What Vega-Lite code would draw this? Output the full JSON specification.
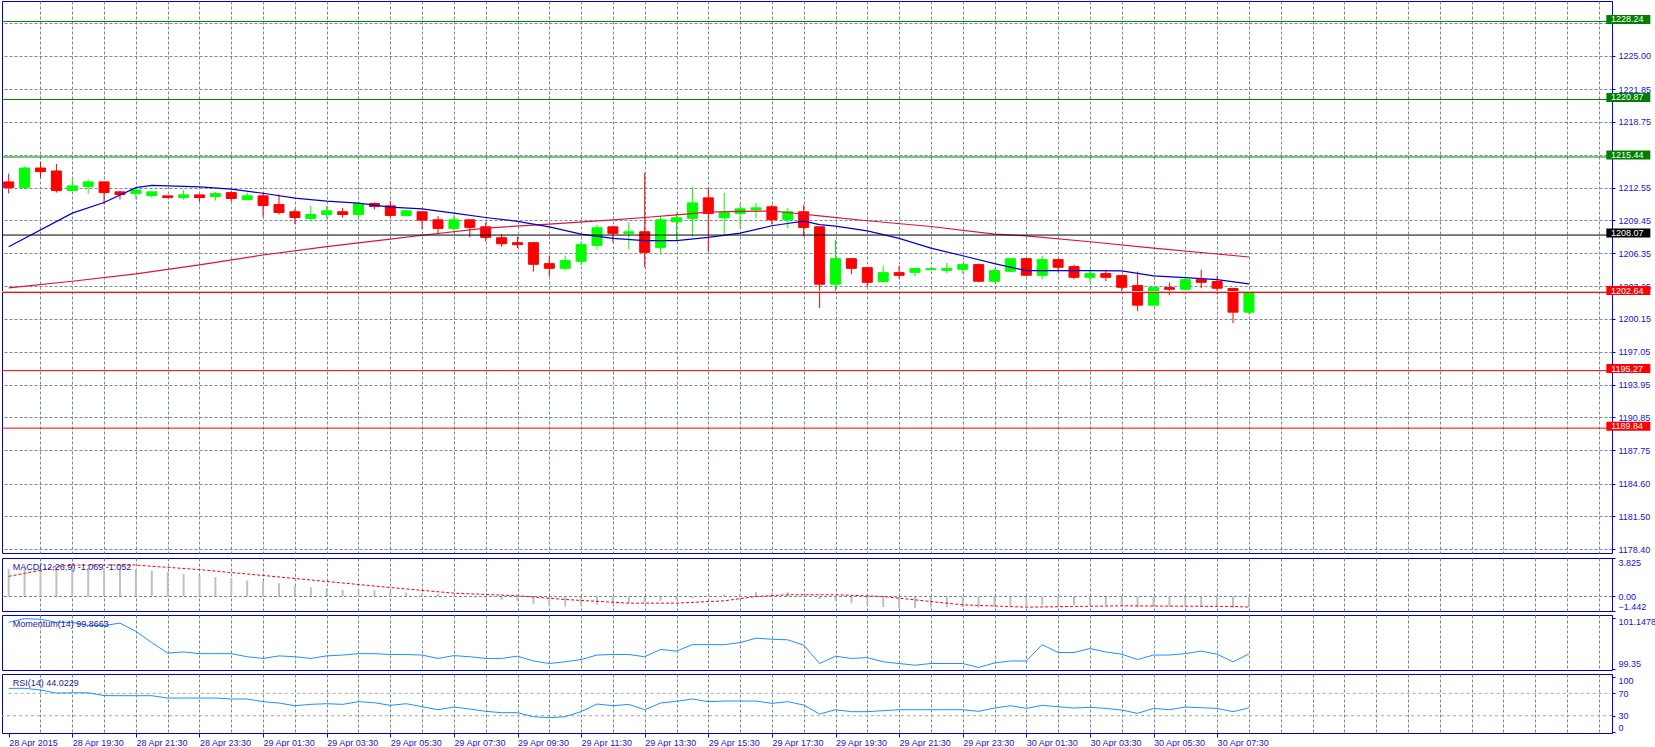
{
  "$schema": "https://vega.github.io/schema/vega-lite/v6.json",
  "padding": {"left": 1, "top": 0, "right": 0, "bottom": 0},
  "background": "white",
  "spacing": 2,
  "config": {
    "font": "Liberation Sans",
    "view": {"stroke": "#0000cd", "strokeWidth": 1},
    "axis": {"labelFont": "Liberation Sans", "labelFontSize": 9, "labelColor": "#1414d2", "tickColor": "#0000ff", "domainColor": "#0000ff", "titleFontSize": 9}
  },
  "resolve": {"scale": {"x": "shared", "y": "independent", "color": "independent"}, "axis": {"x": "independent", "y": "independent"}},
  "datasets": {
    "candles": [
      {"t":"2015-04-28T17:30:00Z","o":1213.09,"h":1213.87,"l":1211.99,"c":1212.55,"macd":2.75,"mom":100.99,"rsi":79},
      {"t":"2015-04-28T18:00:00Z","o":1212.55,"h":1214.53,"l":1212.37,"c":1214.40,"macd":2.82,"mom":101.12,"rsi":79},
      {"t":"2015-04-28T18:30:00Z","o":1214.40,"h":1215.00,"l":1213.49,"c":1214.06,"macd":2.88,"mom":101.10,"rsi":76},
      {"t":"2015-04-28T19:00:00Z","o":1214.12,"h":1214.78,"l":1212.08,"c":1212.27,"macd":2.92,"mom":100.99,"rsi":70.5},
      {"t":"2015-04-28T19:30:00Z","o":1212.27,"h":1213.37,"l":1212.27,"c":1212.71,"macd":2.92,"mom":100.99,"rsi":71},
      {"t":"2015-04-28T20:00:00Z","o":1212.65,"h":1213.28,"l":1211.99,"c":1213.09,"macd":2.82,"mom":100.88,"rsi":71},
      {"t":"2015-04-28T20:30:00Z","o":1213.09,"h":1213.09,"l":1210.99,"c":1212.08,"macd":2.82,"mom":100.88,"rsi":66},
      {"t":"2015-04-28T21:00:00Z","o":1212.15,"h":1212.24,"l":1211.43,"c":1211.90,"macd":2.78,"mom":100.96,"rsi":65.8},
      {"t":"2015-04-28T21:30:00Z","o":1211.99,"h":1212.36,"l":1211.43,"c":1212.33,"macd":2.72,"mom":100.67,"rsi":65.8},
      {"t":"2015-04-28T22:00:00Z","o":1211.80,"h":1212.15,"l":1211.61,"c":1212.15,"macd":2.58,"mom":100.27,"rsi":65.8},
      {"t":"2015-04-28T22:30:00Z","o":1211.77,"h":1211.77,"l":1211.61,"c":1211.61,"macd":2.42,"mom":99.90,"rsi":61.6},
      {"t":"2015-04-28T23:00:00Z","o":1211.61,"h":1212.33,"l":1211.43,"c":1211.86,"macd":2.22,"mom":99.94,"rsi":61.6},
      {"t":"2015-04-28T23:30:00Z","o":1211.86,"h":1211.86,"l":1211.24,"c":1211.61,"macd":2.05,"mom":99.88,"rsi":61.6},
      {"t":"2015-04-29T00:00:00Z","o":1211.71,"h":1212.15,"l":1211.33,"c":1211.99,"macd":1.92,"mom":99.88,"rsi":61.6},
      {"t":"2015-04-29T00:30:00Z","o":1212.08,"h":1212.24,"l":1211.24,"c":1211.52,"macd":1.82,"mom":99.88,"rsi":59.9},
      {"t":"2015-04-29T01:00:00Z","o":1211.43,"h":1212.08,"l":1211.43,"c":1211.77,"macd":1.59,"mom":99.77,"rsi":59.9},
      {"t":"2015-04-29T01:30:00Z","o":1211.77,"h":1212.08,"l":1209.79,"c":1210.86,"macd":1.52,"mom":99.71,"rsi":55.1},
      {"t":"2015-04-29T02:00:00Z","o":1210.95,"h":1211.90,"l":1210.01,"c":1210.20,"macd":1.33,"mom":99.80,"rsi":52.7},
      {"t":"2015-04-29T02:30:00Z","o":1210.27,"h":1210.55,"l":1209.10,"c":1209.73,"macd":1.06,"mom":99.77,"rsi":47.9},
      {"t":"2015-04-29T03:00:00Z","o":1209.64,"h":1210.83,"l":1209.36,"c":1210.01,"macd":0.93,"mom":99.71,"rsi":50.3},
      {"t":"2015-04-29T03:30:00Z","o":1210.01,"h":1210.83,"l":1209.64,"c":1210.36,"macd":0.83,"mom":99.80,"rsi":51.5},
      {"t":"2015-04-29T04:00:00Z","o":1210.27,"h":1210.64,"l":1209.73,"c":1210.01,"macd":0.66,"mom":99.83,"rsi":50.3},
      {"t":"2015-04-29T04:30:00Z","o":1210.01,"h":1211.05,"l":1209.54,"c":1211.05,"macd":0.73,"mom":99.88,"rsi":55.1},
      {"t":"2015-04-29T05:00:00Z","o":1211.05,"h":1211.14,"l":1210.48,"c":1210.77,"macd":0.66,"mom":99.88,"rsi":53.3},
      {"t":"2015-04-29T05:30:00Z","o":1210.83,"h":1211.30,"l":1209.73,"c":1209.92,"macd":0.56,"mom":99.85,"rsi":48.5},
      {"t":"2015-04-29T06:00:00Z","o":1209.92,"h":1210.48,"l":1209.83,"c":1210.36,"macd":0.40,"mom":99.85,"rsi":51.5},
      {"t":"2015-04-29T06:30:00Z","o":1210.27,"h":1210.27,"l":1208.63,"c":1209.48,"macd":0.33,"mom":99.83,"rsi":46.1},
      {"t":"2015-04-29T07:00:00Z","o":1209.51,"h":1209.86,"l":1208.13,"c":1208.70,"macd":0.27,"mom":99.71,"rsi":40.7},
      {"t":"2015-04-29T07:30:00Z","o":1208.70,"h":1209.95,"l":1208.23,"c":1209.51,"macd":0.13,"mom":99.81,"rsi":45.5},
      {"t":"2015-04-29T08:00:00Z","o":1209.51,"h":1209.51,"l":1207.85,"c":1208.79,"macd":0.07,"mom":99.77,"rsi":41.9},
      {"t":"2015-04-29T08:30:00Z","o":1208.85,"h":1209.26,"l":1207.47,"c":1207.85,"macd":-0.17,"mom":99.71,"rsi":37.8},
      {"t":"2015-04-29T09:00:00Z","o":1207.82,"h":1208.16,"l":1206.97,"c":1207.25,"macd":-0.33,"mom":99.71,"rsi":35.4},
      {"t":"2015-04-29T09:30:00Z","o":1207.35,"h":1207.91,"l":1206.85,"c":1207.16,"macd":-0.43,"mom":99.79,"rsi":35.4},
      {"t":"2015-04-29T10:00:00Z","o":1207.35,"h":1207.44,"l":1204.62,"c":1205.31,"macd":-0.73,"mom":99.62,"rsi":28.2},
      {"t":"2015-04-29T10:30:00Z","o":1205.37,"h":1206.13,"l":1204.15,"c":1204.93,"macd":-0.93,"mom":99.53,"rsi":26.4},
      {"t":"2015-04-29T11:00:00Z","o":1204.93,"h":1206.13,"l":1204.75,"c":1205.66,"macd":-0.99,"mom":99.59,"rsi":28.2},
      {"t":"2015-04-29T11:30:00Z","o":1205.59,"h":1207.44,"l":1205.22,"c":1207.16,"macd":-0.92,"mom":99.67,"rsi":37.2},
      {"t":"2015-04-29T12:00:00Z","o":1207.10,"h":1209.04,"l":1206.72,"c":1208.76,"macd":-0.82,"mom":99.83,"rsi":50.9},
      {"t":"2015-04-29T12:30:00Z","o":1208.85,"h":1208.85,"l":1207.38,"c":1208.23,"macd":-0.72,"mom":99.85,"rsi":47.9},
      {"t":"2015-04-29T13:00:00Z","o":1208.23,"h":1209.32,"l":1206.72,"c":1208.38,"macd":-0.66,"mom":99.85,"rsi":50.3},
      {"t":"2015-04-29T13:30:00Z","o":1208.38,"h":1213.93,"l":1205.03,"c":1206.44,"macd":-0.59,"mom":99.77,"rsi":40.7},
      {"t":"2015-04-29T14:00:00Z","o":1206.91,"h":1209.89,"l":1206.25,"c":1209.51,"macd":-0.43,"mom":100.03,"rsi":52.7},
      {"t":"2015-04-29T14:30:00Z","o":1209.32,"h":1210.17,"l":1207.54,"c":1209.70,"macd":-0.33,"mom":99.97,"rsi":55.7},
      {"t":"2015-04-29T15:00:00Z","o":1209.64,"h":1212.62,"l":1207.91,"c":1211.11,"macd":-0.16,"mom":100.20,"rsi":59.9},
      {"t":"2015-04-29T15:30:00Z","o":1211.58,"h":1212.52,"l":1206.50,"c":1210.11,"macd":0.05,"mom":100.20,"rsi":55.1},
      {"t":"2015-04-29T16:00:00Z","o":1209.70,"h":1212.05,"l":1208.20,"c":1210.17,"macd":0.23,"mom":100.20,"rsi":56.3},
      {"t":"2015-04-29T16:30:00Z","o":1210.11,"h":1211.02,"l":1208.79,"c":1210.55,"macd":0.33,"mom":100.27,"rsi":56.3},
      {"t":"2015-04-29T17:00:00Z","o":1210.45,"h":1211.11,"l":1209.70,"c":1210.64,"macd":0.43,"mom":100.43,"rsi":56.3},
      {"t":"2015-04-29T17:30:00Z","o":1210.74,"h":1210.92,"l":1209.07,"c":1209.51,"macd":0.39,"mom":100.39,"rsi":52.1},
      {"t":"2015-04-29T18:00:00Z","o":1209.51,"h":1210.64,"l":1208.70,"c":1210.27,"macd":0.43,"mom":100.37,"rsi":55.1},
      {"t":"2015-04-29T18:30:00Z","o":1210.27,"h":1210.92,"l":1207.94,"c":1208.79,"macd":0.05,"mom":100.18,"rsi":49.1},
      {"t":"2015-04-29T19:00:00Z","o":1208.85,"h":1208.85,"l":1201.17,"c":1203.43,"macd":-0.26,"mom":99.53,"rsi":33.0},
      {"t":"2015-04-29T19:30:00Z","o":1203.43,"h":1207.63,"l":1202.67,"c":1205.84,"macd":-0.43,"mom":99.79,"rsi":40.7},
      {"t":"2015-04-29T20:00:00Z","o":1205.84,"h":1205.84,"l":1204.37,"c":1204.93,"macd":-0.66,"mom":99.71,"rsi":37.2},
      {"t":"2015-04-29T20:30:00Z","o":1204.99,"h":1204.99,"l":1203.21,"c":1203.61,"macd":-0.82,"mom":99.74,"rsi":37.2},
      {"t":"2015-04-29T21:00:00Z","o":1203.68,"h":1205.18,"l":1203.68,"c":1204.52,"macd":-1.05,"mom":99.59,"rsi":39.0},
      {"t":"2015-04-29T21:30:00Z","o":1204.52,"h":1205.18,"l":1203.96,"c":1204.27,"macd":-1.15,"mom":99.53,"rsi":40.7},
      {"t":"2015-04-29T22:00:00Z","o":1204.55,"h":1204.90,"l":1204.15,"c":1204.90,"macd":-1.15,"mom":99.47,"rsi":40.7},
      {"t":"2015-04-29T22:30:00Z","o":1204.80,"h":1204.90,"l":1204.80,"c":1204.90,"macd":-1.08,"mom":99.53,"rsi":40.7},
      {"t":"2015-04-29T23:00:00Z","o":1204.74,"h":1205.46,"l":1204.46,"c":1204.93,"macd":-1.08,"mom":99.53,"rsi":40.7},
      {"t":"2015-04-29T23:30:00Z","o":1204.84,"h":1205.28,"l":1204.46,"c":1205.28,"macd":-1.05,"mom":99.53,"rsi":40.7},
      {"t":"2015-04-30T00:00:00Z","o":1205.28,"h":1205.37,"l":1203.61,"c":1203.71,"macd":-1.10,"mom":99.39,"rsi":37.8},
      {"t":"2015-04-30T00:30:00Z","o":1203.71,"h":1204.90,"l":1203.61,"c":1204.71,"macd":-1.05,"mom":99.55,"rsi":43.7},
      {"t":"2015-04-30T01:00:00Z","o":1204.65,"h":1205.84,"l":1204.65,"c":1205.84,"macd":-0.98,"mom":99.62,"rsi":47.9},
      {"t":"2015-04-30T01:30:00Z","o":1205.84,"h":1205.84,"l":1204.27,"c":1204.27,"macd":-0.95,"mom":99.62,"rsi":43.1},
      {"t":"2015-04-30T02:00:00Z","o":1204.27,"h":1206.12,"l":1203.90,"c":1205.75,"macd":-0.85,"mom":100.20,"rsi":48.5},
      {"t":"2015-04-30T02:30:00Z","o":1205.75,"h":1205.75,"l":1204.55,"c":1205.03,"macd":-0.82,"mom":99.92,"rsi":46.1},
      {"t":"2015-04-30T03:00:00Z","o":1205.09,"h":1205.28,"l":1203.90,"c":1204.08,"macd":-0.85,"mom":99.92,"rsi":43.7},
      {"t":"2015-04-30T03:30:00Z","o":1204.08,"h":1204.81,"l":1203.61,"c":1204.43,"macd":-0.84,"mom":100.06,"rsi":44.9},
      {"t":"2015-04-30T04:00:00Z","o":1204.43,"h":1204.71,"l":1203.71,"c":1204.08,"macd":-0.86,"mom":99.94,"rsi":43.1},
      {"t":"2015-04-30T04:30:00Z","o":1204.24,"h":1204.24,"l":1202.67,"c":1203.14,"macd":-0.92,"mom":99.86,"rsi":40.1},
      {"t":"2015-04-30T05:00:00Z","o":1203.30,"h":1204.62,"l":1200.89,"c":1201.45,"macd":-1.05,"mom":99.67,"rsi":34.2},
      {"t":"2015-04-30T05:30:00Z","o":1201.45,"h":1203.11,"l":1201.45,"c":1203.11,"macd":-1.02,"mom":99.83,"rsi":43.1},
      {"t":"2015-04-30T06:00:00Z","o":1203.11,"h":1203.58,"l":1202.39,"c":1202.95,"macd":-1.03,"mom":99.83,"rsi":40.7},
      {"t":"2015-04-30T06:30:00Z","o":1202.95,"h":1204.05,"l":1202.86,"c":1203.86,"macd":-0.98,"mom":99.88,"rsi":45.5},
      {"t":"2015-04-30T07:00:00Z","o":1203.86,"h":1204.80,"l":1203.05,"c":1203.61,"macd":-0.97,"mom":99.97,"rsi":44.3},
      {"t":"2015-04-30T07:30:00Z","o":1203.68,"h":1204.24,"l":1202.49,"c":1203.05,"macd":-0.98,"mom":99.86,"rsi":43.1},
      {"t":"2015-04-30T08:00:00Z","o":1203.02,"h":1203.11,"l":1199.76,"c":1200.79,"macd":-1.10,"mom":99.59,"rsi":37.2},
      {"t":"2015-04-30T08:30:00Z","o":1200.79,"h":1202.83,"l":1200.60,"c":1202.64,"macd":-1.069,"mom":99.8663,"rsi":44.0229}
    ],
    "ma_fast": [
      {"t":"2015-04-28T17:30:00Z","v":1206.97},{"t":"2015-04-28T19:30:00Z","v":1210.14},{"t":"2015-04-28T20:30:00Z","v":1211.14},
      {"t":"2015-04-28T21:30:00Z","v":1212.55},{"t":"2015-04-28T22:00:00Z","v":1212.77},{"t":"2015-04-28T22:30:00Z","v":1212.71},
      {"t":"2015-04-28T23:30:00Z","v":1212.62},{"t":"2015-04-29T00:30:00Z","v":1212.40},{"t":"2015-04-29T01:30:00Z","v":1212.02},
      {"t":"2015-04-29T02:30:00Z","v":1211.55},{"t":"2015-04-29T03:30:00Z","v":1211.27},{"t":"2015-04-29T04:30:00Z","v":1211.08},
      {"t":"2015-04-29T05:30:00Z","v":1210.70},{"t":"2015-04-29T06:30:00Z","v":1210.55},{"t":"2015-04-29T07:30:00Z","v":1210.14},
      {"t":"2015-04-29T08:30:00Z","v":1209.73},{"t":"2015-04-29T09:30:00Z","v":1209.36},{"t":"2015-04-29T10:30:00Z","v":1208.85},
      {"t":"2015-04-29T11:30:00Z","v":1208.16},{"t":"2015-04-29T12:30:00Z","v":1207.76},{"t":"2015-04-29T13:30:00Z","v":1207.54},
      {"t":"2015-04-29T14:30:00Z","v":1207.54},{"t":"2015-04-29T15:30:00Z","v":1207.85},{"t":"2015-04-29T16:30:00Z","v":1208.26},
      {"t":"2015-04-29T17:30:00Z","v":1208.95},{"t":"2015-04-29T18:30:00Z","v":1209.38},{"t":"2015-04-29T19:00:00Z","v":1209.06},
      {"t":"2015-04-29T19:30:00Z","v":1208.91},{"t":"2015-04-29T20:30:00Z","v":1208.47},{"t":"2015-04-29T21:30:00Z","v":1207.75},
      {"t":"2015-04-29T22:30:00Z","v":1206.84},{"t":"2015-04-29T23:30:00Z","v":1206.12},{"t":"2015-04-30T00:30:00Z","v":1205.37},
      {"t":"2015-04-30T01:30:00Z","v":1204.71},{"t":"2015-04-30T02:30:00Z","v":1204.71},{"t":"2015-04-30T03:30:00Z","v":1204.71},
      {"t":"2015-04-30T04:30:00Z","v":1204.68},{"t":"2015-04-30T05:30:00Z","v":1204.21},{"t":"2015-04-30T06:30:00Z","v":1204.05},
      {"t":"2015-04-30T07:30:00Z","v":1203.86},{"t":"2015-04-30T08:30:00Z","v":1203.46}
    ],
    "ma_slow": [
      {"t":"2015-04-28T17:30:00Z","v":1203.08},{"t":"2015-04-28T19:30:00Z","v":1203.71},{"t":"2015-04-28T21:30:00Z","v":1204.40},
      {"t":"2015-04-28T23:30:00Z","v":1205.25},{"t":"2015-04-29T01:30:00Z","v":1206.19},{"t":"2015-04-29T03:30:00Z","v":1206.97},
      {"t":"2015-04-29T05:30:00Z","v":1207.69},{"t":"2015-04-29T06:30:00Z","v":1208.05},{"t":"2015-04-29T08:30:00Z","v":1208.73},
      {"t":"2015-04-29T10:30:00Z","v":1209.10},{"t":"2015-04-29T12:30:00Z","v":1209.51},{"t":"2015-04-29T13:30:00Z","v":1209.73},
      {"t":"2015-04-29T14:30:00Z","v":1209.98},{"t":"2015-04-29T15:30:00Z","v":1210.23},{"t":"2015-04-29T16:30:00Z","v":1210.30},
      {"t":"2015-04-29T17:30:00Z","v":1210.33},{"t":"2015-04-29T18:00:00Z","v":1210.20},{"t":"2015-04-29T19:00:00Z","v":1209.88},
      {"t":"2015-04-29T20:30:00Z","v":1209.42},{"t":"2015-04-29T22:30:00Z","v":1208.88},{"t":"2015-04-30T00:30:00Z","v":1208.16},
      {"t":"2015-04-30T01:30:00Z","v":1208.00},{"t":"2015-04-30T03:30:00Z","v":1207.44},{"t":"2015-04-30T05:30:00Z","v":1206.84},
      {"t":"2015-04-30T07:30:00Z","v":1206.28},{"t":"2015-04-30T08:30:00Z","v":1206.00}
    ],
    "signal": [
      {"t":"2015-04-28T17:30:00Z","v":2.0},{"t":"2015-04-28T18:00:00Z","v":2.3},{"t":"2015-04-28T18:30:00Z","v":2.6},
      {"t":"2015-04-28T19:00:00Z","v":3.0},{"t":"2015-04-28T19:30:00Z","v":3.12},{"t":"2015-04-28T21:30:00Z","v":3.13},
      {"t":"2015-04-28T22:00:00Z","v":3.0},{"t":"2015-04-28T22:30:00Z","v":2.9},{"t":"2015-04-28T23:30:00Z","v":2.67},
      {"t":"2015-04-29T01:30:00Z","v":2.09},{"t":"2015-04-29T03:30:00Z","v":1.49},{"t":"2015-04-29T05:30:00Z","v":0.89},
      {"t":"2015-04-29T07:30:00Z","v":0.33},{"t":"2015-04-29T09:30:00Z","v":0.07},{"t":"2015-04-29T11:00:00Z","v":-0.3},
      {"t":"2015-04-29T13:00:00Z","v":-0.66},{"t":"2015-04-29T14:30:00Z","v":-0.66},{"t":"2015-04-29T16:00:00Z","v":-0.43},
      {"t":"2015-04-29T17:00:00Z","v":0.0},{"t":"2015-04-29T18:00:00Z","v":0.17},{"t":"2015-04-29T19:30:00Z","v":0.17},
      {"t":"2015-04-29T21:00:00Z","v":0.0},{"t":"2015-04-29T22:30:00Z","v":-0.5},{"t":"2015-04-29T23:30:00Z","v":-0.83},
      {"t":"2015-04-30T01:30:00Z","v":-1.06},{"t":"2015-04-30T03:00:00Z","v":-0.99},{"t":"2015-04-30T04:30:00Z","v":-0.93},
      {"t":"2015-04-30T08:00:00Z","v":-0.99},{"t":"2015-04-30T08:30:00Z","v":-1.052}
    ],
    "levels": [
      {"kind":"R3","v":1228.24},{"kind":"R2","v":1220.87},{"kind":"R1","v":1215.44},{"kind":"PP","v":1208.07},
      {"kind":"S1","v":1202.64},{"kind":"S2","v":1195.27},{"kind":"S3","v":1189.84}
    ],
    "one": [{}]
  },
  "vconcat": [
    {
      "width": 1610,
      "height": 552,
      "layer": [
        {
          "data": {"name": "candles"},
          "mark": {"type": "rule", "strokeWidth": 1},
          "encoding": {
            "x": {"field": "t", "type": "temporal", "scale": {"type": "utc", "domain": [1430242008750, 1430423136000], "nice": false},
              "axis": {"values": [1430245800000,1430249400000,1430253000000,1430256600000,1430260200000,1430263800000,1430267400000,1430271000000,1430274600000,1430278200000,1430281800000,1430285400000,1430289000000,1430292600000,1430296200000,1430299800000,1430303400000,1430307000000,1430310600000,1430314200000,1430317800000,1430321400000,1430325000000,1430328600000,1430332200000,1430335800000,1430339400000,1430343000000,1430346600000,1430350200000,1430353800000,1430357400000,1430361000000,1430364600000,1430368200000,1430371800000,1430375400000,1430379000000,1430382600000,1430386200000,1430389800000,1430393400000,1430397000000,1430400600000,1430404200000,1430407800000,1430411400000,1430415000000,1430418600000,1430422200000],
                "tickCount": 500, "title": null, "grid": true, "gridColor": "#778899", "gridDash": [3, 2], "labels": false, "ticks": false, "domain": false, "minExtent": 0, "maxExtent": 0}},
            "y": {"field": "l", "type": "quantitative", "scale": {"domain": [1178.05, 1230.17], "nice": false, "zero": false},
              "axis": {"orient": "right", "title": null, "values": [1178.40,1181.50,1184.60,1187.75,1190.85,1193.95,1197.05,1200.15,1203.25,1206.35,1209.45,1212.55,1215.65,1218.75,1221.85,1225.00,1228.10],
                "tickCount": 500, "labelExpr": "(abs(datum.value - 1215.65) < 0.01 || abs(datum.value - 1228.10) < 0.01) ? '' : format(datum.value, '.2f')",
                "grid": true, "gridColor": "#778899", "gridDash": [3, 2], "tickSize": 3, "labelPadding": 3, "labelOverlap": false, "labelFlush": false, "labelBound": false}},
            "y2": {"field": "h"},
            "color": {"condition": {"test": "datum.c >= datum.o", "value": "#00ff00"}, "value": "#ff0000"}
          }
        },
        {
          "data": {"name": "candles"},
          "mark": {"type": "bar", "size": 10, "strokeWidth": 1},
          "encoding": {
            "x": {"field": "t", "type": "temporal"},
            "y": {"field": "o", "type": "quantitative"},
            "y2": {"field": "c"},
            "color": {"condition": {"test": "datum.c >= datum.o", "value": "#00ff00"}, "value": "#ff0000"},
            "stroke": {"condition": {"test": "datum.c >= datum.o", "value": "#00ff00"}, "value": "#ff0000"}
          }
        },
        {
          "data": {"name": "ma_slow"},
          "mark": {"type": "line", "color": "#dc143c", "strokeWidth": 1.2},
          "encoding": {"x": {"field": "t", "type": "temporal"}, "y": {"field": "v", "type": "quantitative"}}
        },
        {
          "data": {"name": "ma_fast"},
          "mark": {"type": "line", "color": "#0000cd", "strokeWidth": 1.2},
          "encoding": {"x": {"field": "t", "type": "temporal"}, "y": {"field": "v", "type": "quantitative"}}
        },
        {
          "data": {"name": "one"},
          "mark": {"type": "rule", "color": "#c0c0c0", "strokeWidth": 1},
          "encoding": {"y": {"datum": 1202.74, "type": "quantitative"}}
        },
        {
          "data": {"name": "levels"},
          "mark": {"type": "rule", "strokeWidth": 1},
          "encoding": {
            "y": {"field": "v", "type": "quantitative"},
            "color": {"field": "kind", "type": "nominal", "legend": null, "scale": {"domain": ["R3","R2","R1","PP","S1","S2","S3"], "range": ["#008000","#008000","#008000","#000000","#ff0000","#ff0000","#ff0000"]}}
          }
        },
        {
          "data": {"name": "levels"},
          "mark": {"type": "tick", "orient": "horizontal", "size": 44, "thickness": 9, "yOffset": -2, "clip": false, "opacity": 1},
          "encoding": {
            "x": {"datum": 1430425552500, "type": "temporal"},
            "y": {"field": "v", "type": "quantitative"},
            "color": {"field": "kind", "type": "nominal", "legend": null}
          }
        },
        {
          "data": {"name": "levels"},
          "mark": {"type": "text", "color": "white", "fontSize": 9, "font": "Liberation Sans", "align": "center", "baseline": "middle", "yOffset": -2, "clip": false},
          "encoding": {
            "x": {"datum": 1430425422000, "type": "temporal"},
            "y": {"field": "v", "type": "quantitative"},
            "text": {"field": "v", "type": "quantitative", "format": ".2f"}
          }
        }
      ]
    },
    {
      "width": 1610,
      "height": 53,
      "layer": [
        {
          "data": {"name": "candles"},
          "mark": {"type": "bar", "size": 2, "color": "#c0c0c0"},
          "encoding": {
            "x": {"field": "t", "type": "temporal", "scale": {"type": "utc", "domain": [1430242008750, 1430423136000], "nice": false},
              "axis": {"values": [1430245800000,1430249400000,1430253000000,1430256600000,1430260200000,1430263800000,1430267400000,1430271000000,1430274600000,1430278200000,1430281800000,1430285400000,1430289000000,1430292600000,1430296200000,1430299800000,1430303400000,1430307000000,1430310600000,1430314200000,1430317800000,1430321400000,1430325000000,1430328600000,1430332200000,1430335800000,1430339400000,1430343000000,1430346600000,1430350200000,1430353800000,1430357400000,1430361000000,1430364600000,1430368200000,1430371800000,1430375400000,1430379000000,1430382600000,1430386200000,1430389800000,1430393400000,1430397000000,1430400600000,1430404200000,1430407800000,1430411400000,1430415000000,1430418600000,1430422200000],
                "tickCount": 500, "title": null, "grid": true, "gridColor": "#778899", "gridDash": [3, 2], "labels": false, "ticks": false, "domain": false, "minExtent": 0, "maxExtent": 0}},
            "y": {"field": "macd", "type": "quantitative", "scale": {"domain": [-1.442, 3.825], "nice": false, "zero": false},
              "axis": {"orient": "right", "title": null, "values": [-1.442, 0, 3.825], "tickCount": 50, "labelExpr": "datum.value == 0 ? '0.00' : format(datum.value, '.3f')",
                "grid": false, "tickSize": 3, "labelPadding": 3, "labelOverlap": false, "labelFlush": 5, "labelBound": false}},
            "y2": {"datum": 0}
          }
        },
        {
          "data": {"name": "one"},
          "mark": {"type": "rule", "color": "#778899", "strokeDash": [3, 2], "strokeWidth": 1},
          "encoding": {"y": {"datum": 0, "type": "quantitative"}}
        },
        {
          "data": {"name": "signal"},
          "mark": {"type": "line", "color": "#ff0000", "strokeDash": [3, 2], "strokeWidth": 1},
          "encoding": {"x": {"field": "t", "type": "temporal"}, "y": {"field": "v", "type": "quantitative"}}
        },
        {
          "data": {"name": "one"},
          "mark": {"type": "text", "align": "left", "baseline": "middle", "fontSize": 9, "color": "#1a1aa6"},
          "encoding": {"x": {"datum": 1430242650000, "type": "temporal"}, "y": {"datum": 2.9, "type": "quantitative"}, "text": {"value": "MACD(12,26,9) -1.069 -1.052"}}
        }
      ]
    },
    {
      "width": 1610,
      "height": 55,
      "layer": [
        {
          "data": {"name": "candles"},
          "mark": {"type": "line", "color": "#1e90ff", "strokeWidth": 1},
          "encoding": {
            "x": {"field": "t", "type": "temporal", "scale": {"type": "utc", "domain": [1430242008750, 1430423136000], "nice": false},
              "axis": {"values": [1430245800000,1430249400000,1430253000000,1430256600000,1430260200000,1430263800000,1430267400000,1430271000000,1430274600000,1430278200000,1430281800000,1430285400000,1430289000000,1430292600000,1430296200000,1430299800000,1430303400000,1430307000000,1430310600000,1430314200000,1430317800000,1430321400000,1430325000000,1430328600000,1430332200000,1430335800000,1430339400000,1430343000000,1430346600000,1430350200000,1430353800000,1430357400000,1430361000000,1430364600000,1430368200000,1430371800000,1430375400000,1430379000000,1430382600000,1430386200000,1430389800000,1430393400000,1430397000000,1430400600000,1430404200000,1430407800000,1430411400000,1430415000000,1430418600000,1430422200000],
                "tickCount": 500, "title": null, "grid": true, "gridColor": "#778899", "gridDash": [3, 2], "labels": false, "ticks": false, "domain": false, "minExtent": 0, "maxExtent": 0}},
            "y": {"field": "mom", "type": "quantitative", "scale": {"domain": [99.3, 101.25], "nice": false, "zero": false},
              "axis": {"orient": "right", "title": null, "values": [99.35, 101.1478], "tickCount": 50, "format": ".4~f",
                "grid": false, "tickSize": 3, "labelPadding": 3, "labelOverlap": false, "labelFlush": 5, "labelBound": false}}
          }
        },
        {
          "data": {"name": "one"},
          "mark": {"type": "text", "align": "left", "baseline": "middle", "fontSize": 9, "color": "#1a1aa6"},
          "encoding": {"x": {"datum": 1430242650000, "type": "temporal"}, "y": {"datum": 100.92, "type": "quantitative"}, "text": {"value": "Momentum(14) 99.8663"}}
        }
      ]
    },
    {
      "width": 1610,
      "height": 59,
      "layer": [
        {
          "data": {"name": "one"},
          "mark": {"type": "rule", "color": "#a9a9a9", "strokeDash": [3, 3], "strokeWidth": 1},
          "encoding": {
            "x": {"datum": 1430242200000, "type": "temporal", "scale": {"type": "utc", "domain": [1430242008750, 1430423136000], "nice": false},
              "axis": {"values": [1430242200000,1430245800000,1430249400000,1430253000000,1430256600000,1430260200000,1430263800000,1430267400000,1430271000000,1430274600000,1430278200000,1430281800000,1430285400000,1430289000000,1430292600000,1430296200000,1430299800000,1430303400000,1430307000000,1430310600000,1430314200000,1430317800000,1430321400000,1430325000000,1430328600000,1430332200000,1430335800000,1430339400000,1430343000000,1430346600000,1430350200000,1430353800000,1430357400000,1430361000000,1430364600000,1430368200000,1430371800000,1430375400000,1430379000000,1430382600000,1430386200000,1430389800000,1430393400000,1430397000000,1430400600000,1430404200000,1430407800000,1430411400000,1430415000000,1430418600000,1430422200000],
                "tickCount": 500, "title": null, "grid": true, "gridColor": "#778899", "gridDash": [3, 2],
                "gridOpacity": {"condition": {"test": "datum.value < 1430245000000", "value": 0}, "value": 1},
                "domain": false, "ticks": true, "tickSize": 4, "tickColor": "#0000ff",
                "tickOpacity": {"condition": {"test": "datum.value <= 1430379000000 && utchours(datum.value) % 2 == 1", "value": 1}, "value": 0},
                "labelExpr": "datum.value <= 1430379000000 && utchours(datum.value) % 2 == 1 ? (datum.value < 1430245000000 ? '28 Apr 2015' : utcFormat(datum.value, '%d %b %H:%M')) : ''",
                "labelAlign": "left", "labelBaseline": "top", "labelPadding": 1, "labelOverlap": false, "labelBound": false, "labelFlush": false}},
            "x2": {"datum": 1430423136000},
            "y": {"datum": 70, "type": "quantitative", "scale": {"domain": [-1, 104.7], "nice": false, "zero": false},
              "axis": {"orient": "right", "title": null, "values": [0, 30, 70, 100], "tickCount": 50, "format": "d",
                "grid": false, "tickSize": 3, "labelPadding": 3, "labelOverlap": false, "labelFlush": 5, "labelBound": false}}
          }
        },
        {
          "data": {"name": "one"},
          "mark": {"type": "rule", "color": "#a9a9a9", "strokeDash": [3, 3], "strokeWidth": 1},
          "encoding": {"y": {"datum": 30, "type": "quantitative"}}
        },
        {
          "data": {"name": "candles"},
          "mark": {"type": "line", "color": "#1e90ff", "strokeWidth": 1},
          "encoding": {"x": {"field": "t", "type": "temporal"}, "y": {"field": "rsi", "type": "quantitative"}}
        },
        {
          "data": {"name": "one"},
          "mark": {"type": "text", "align": "left", "baseline": "middle", "fontSize": 9, "color": "#1a1aa6"},
          "encoding": {"x": {"datum": 1430242650000, "type": "temporal"}, "y": {"datum": 87.9, "type": "quantitative"}, "text": {"value": "RSI(14) 44.0229"}}
        }
      ]
    }
  ]
}
